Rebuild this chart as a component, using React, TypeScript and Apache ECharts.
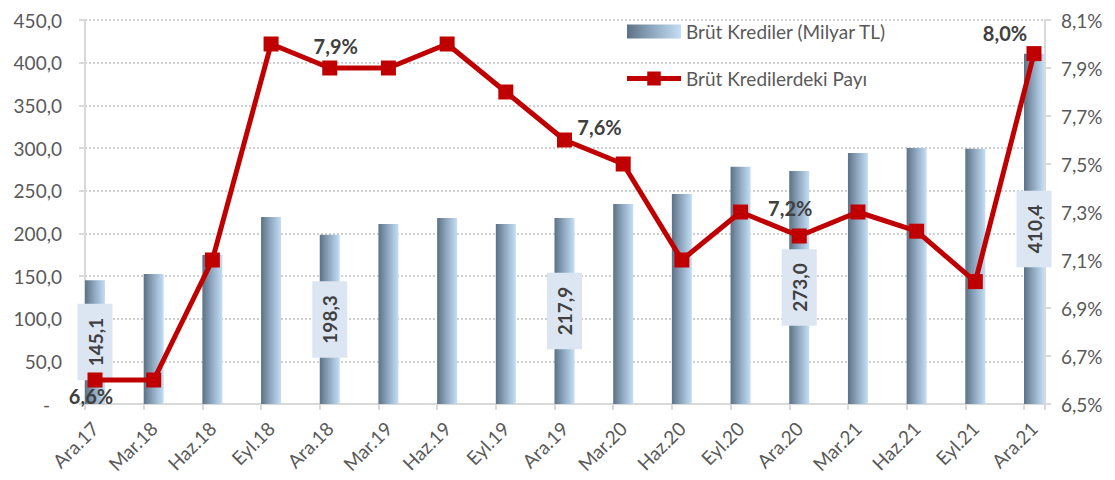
import { useEffect, useRef } from "react";
import * as echarts from "echarts";

const categories = [
  "Ara.17", "Mar.18", "Haz.18", "Eyl.18", "Ara.18", "Mar.19", "Haz.19", "Eyl.19",
  "Ara.19", "Mar.20", "Haz.20", "Eyl.20", "Ara.20", "Mar.21", "Haz.21", "Eyl.21", "Ara.21",
];
const grossLoans = [
  145.1, 152.3, 174.6, 219.0, 198.3, 211.0, 218.0, 211.0,
  217.9, 234.4, 246.0, 278.0, 273.0, 294.0, 300.0, 299.0, 410.4,
];
const shareInLoans = [
  6.6, 6.6, 7.1, 8.0, 7.9, 7.9, 8.0, 7.8,
  7.6, 7.5, 7.1, 7.3, 7.2, 7.3, 7.22, 7.01, 7.96,
];
const labeledIndices = [0, 4, 8, 12, 16];
const legendNames = ["Brüt Krediler (Milyar TL)", "Brüt Kredilerdeki Payı"];
const leftAxisRange = [0, 450, 50];
const rightAxisRange = [6.5, 8.1, 0.2];

const FONT = "Lato, 'Noto Sans', sans-serif";
const lineLabelOffsets: Record<number, [number, number]> = {
  0: [-4, 16],
  4: [6, -22],
  8: [35, -13],
  12: [-9, -28],
  16: [-29, -21],
};

const fmt1 = (v: number) => v.toFixed(1).replace(".", ",");

export default function App() {
  const ref = useRef<HTMLDivElement>(null);
  useEffect(() => {
    if (!ref.current) return;
    const chart = echarts.init(ref.current, undefined, { renderer: "svg" });
    const barColor = new echarts.graphic.LinearGradient(0, 0, 1, 0, [
      { offset: 0, color: "#5d7185" },
      { offset: 0.5, color: "#92abc3" },
      { offset: 1, color: "#c4def5" },
    ]);
    const axisGrey = "#d9d9d9";
    const labelGrey = "#595959";
    const gridLeft = 85, gridRight = 70, plotLeft = 95, plotRight = 81;
    const step = (1115 - plotLeft - plotRight) / (categories.length - 1);
    const tickMax = (1115 - gridLeft - gridRight) / step;

    const option: any = {
      animation: false,
      textStyle: { fontFamily: FONT },
      legend: {
        orient: "vertical",
        left: 622,
        top: 17,
        itemWidth: 54,
        itemHeight: 14,
        itemGap: 28,
        symbolKeepAspect: false,
        textStyle: { fontSize: 19, color: labelGrey, fontFamily: FONT },
        data: [
          { name: legendNames[0], icon: "rect" },
          {
            name: legendNames[1],
            icon: "path://M0,4.5H21V0H35V4.5H56V9.5H35V14H21V9.5H0Z",
          },
        ],
      },
      grid: [
        { left: gridLeft, right: gridRight, top: 20, bottom: 76 },
        { left: plotLeft, right: plotRight, top: 20, bottom: 76 },
      ],
      xAxis: [
        {
          gridIndex: 0,
          type: "value",
          min: 0,
          max: tickMax,
          interval: 1,
          axisLine: { show: true, lineStyle: { color: axisGrey, width: 2 } },
          axisTick: { show: true, length: 6, lineStyle: { color: axisGrey, width: 2 } },
          axisLabel: { show: false },
          splitLine: { show: false },
        },
        {
          gridIndex: 1,
          type: "category",
          boundaryGap: false,
          data: categories,
          axisLine: { show: false },
          axisTick: { show: false },
          axisLabel: {
            interval: 0,
            rotate: 45,
            fontSize: 19,
            color: labelGrey,
            margin: 21,
            fontFamily: FONT,
          },
        },
      ],
      yAxis: [
        {
          gridIndex: 0,
          type: "value",
          position: "left",
          min: leftAxisRange[0],
          max: leftAxisRange[1],
          interval: leftAxisRange[2],
          axisLine: { show: true, lineStyle: { color: axisGrey, width: 2 } },
          axisTick: { show: true, length: 6, lineStyle: { color: axisGrey, width: 2 } },
          axisLabel: {
            fontSize: 19,
            color: labelGrey,
            margin: 23,
            fontFamily: FONT,
            formatter: (v: number) => (v === 0 ? "{d|-}" : fmt1(v)),
            rich: { d: { padding: [0, 12, 0, 0], fontSize: 19, color: labelGrey } },
          },
          splitLine: { show: true, lineStyle: { type: "dotted", color: "#cfcfcf", width: 2 } },
        },
        {
          gridIndex: 0,
          type: "value",
          position: "right",
          min: rightAxisRange[0],
          max: rightAxisRange[1],
          interval: rightAxisRange[2],
          axisLine: { show: true, lineStyle: { color: axisGrey, width: 2 } },
          axisTick: { show: true, length: 6, lineStyle: { color: axisGrey, width: 2 } },
          axisLabel: {
            fontSize: 19,
            color: labelGrey,
            margin: 16,
            fontFamily: FONT,
            formatter: (v: number) => fmt1(v) + "%",
          },
          splitLine: { show: false },
        },
        { gridIndex: 1, type: "value", min: leftAxisRange[0], max: leftAxisRange[1], show: false },
        { gridIndex: 1, type: "value", min: rightAxisRange[0], max: rightAxisRange[1], show: false },
      ],
      series: [
        {
          name: legendNames[0],
          type: "bar",
          xAxisIndex: 1,
          yAxisIndex: 2,
          barWidth: 20,
          itemStyle: { color: barColor },
          z: 2,
          data: grossLoans.map((v, i) => ({
            value: v,
            label: labeledIndices.includes(i) ? { show: true } : { show: false },
          })),
          label: {
            position: "inside",
            rotate: 90,
            fontSize: 19,
            fontWeight: "bold",
            color: "#404040",
            fontFamily: FONT,
            backgroundColor: "#dce6f2",
            padding: [8, 14],
            formatter: (p: any) => fmt1(p.value),
          },
        },
        {
          name: legendNames[1],
          type: "line",
          xAxisIndex: 1,
          yAxisIndex: 3,
          symbol: "rect",
          symbolSize: 15,
          itemStyle: { color: "#c00000" },
          lineStyle: { color: "#c00000", width: 5 },
          z: 5,
          data: shareInLoans.map((v, i) => ({
            value: v,
            label: labeledIndices.includes(i)
              ? { show: true, offset: lineLabelOffsets[i] }
              : { show: false },
          })),
          label: {
            position: "inside",
            fontSize: 20,
            fontWeight: "bold",
            color: "#404040",
            fontFamily: FONT,
            formatter: (p: any) => fmt1(Math.round(p.value * 10) / 10) + "%",
          },
        },
      ],
    };
    chart.setOption(option);
    return () => chart.dispose();
  }, []);
  return (
    <div
      ref={ref}
      style={{ position: "absolute", left: 0, top: 0, width: 1115, height: 480, background: "#fff" }}
    />
  );
}
